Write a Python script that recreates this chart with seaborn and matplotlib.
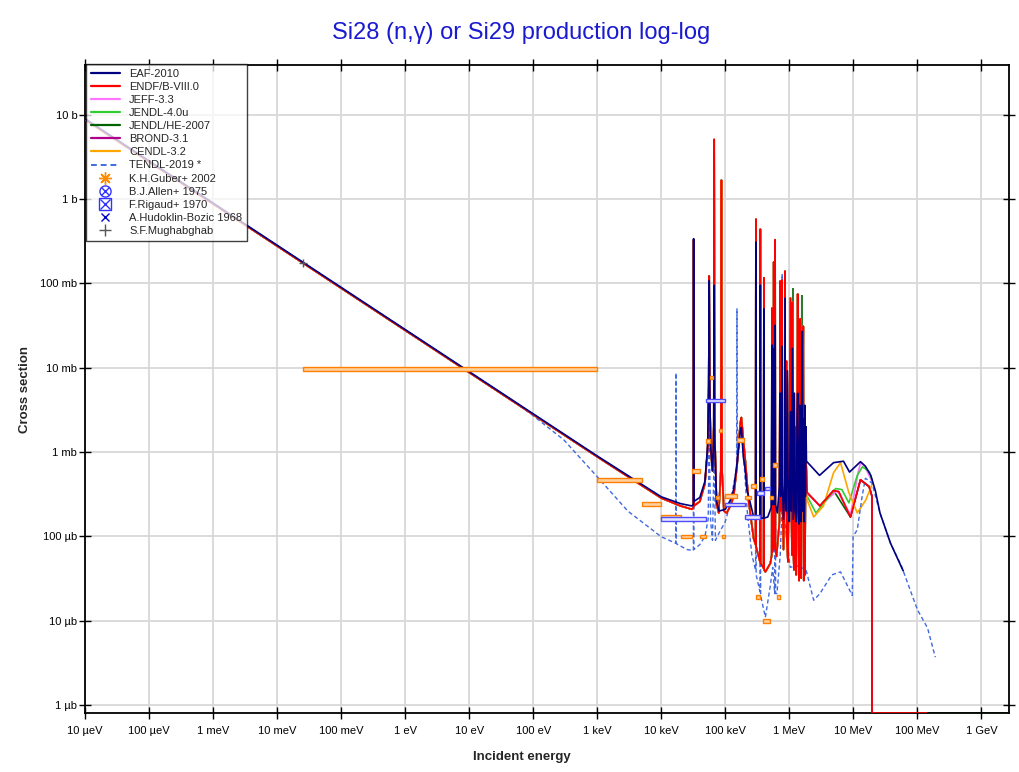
import seaborn as sns
import matplotlib.pyplot as plt
import numpy as np
from matplotlib.lines import Line2D
from matplotlib.patches import Rectangle

# evaluated data: (incident energy [eV], cross section [b]); 0 means no cross section
eaf_2010 = [
    (1e-5, 9.0), (1e3, 9.0e-4), (1e4, 2.95e-4), (2e4, 2.45e-4), (3.0e4, 2.3e-4),
    (3.17e4, 2.4e-4), (3.2e4, 0.34), (3.23e4, 2.6e-4), (4.0e4, 2.9e-4), (4.8e4, 4.5e-4),
    (5.3e4, 1.2e-3), (5.5e4, 6e-3), (5.6e4, 0.108), (5.7e4, 6e-3), (5.9e4, 1.2e-3), (6.3e4, 6e-4),
    (6.6e4, 1.5e-3), (6.7e4, 0.095), (6.8e4, 1.5e-3), (7.3e4, 2.6e-4), (8.0e4, 2.0e-4),
    (1.0e5, 2.1e-4), (1.2e5, 2.7e-4), (1.35e5, 3.6e-4), (1.52e5, 7.3e-4), (1.71e5, 1.75e-3),
    (1.78e5, 1.96e-3), (1.91e5, 8.8e-4), (2.05e5, 6.1e-4), (2.17e5, 3.6e-4), (2.45e5, 2.5e-4),
    (2.77e5, 1.7e-4), (2.97e5, 1.7e-4), (3.0e5, 0.31), (3.03e5, 1.7e-4), (3.48e5, 1.65e-4),
    (3.52e5, 0.095), (3.56e5, 1.65e-4), (3.96e5, 1.65e-4), (4.0e5, 0.05), (4.04e5, 1.65e-4),
    (4.6e5, 1.7e-4), (5.2e5, 2.2e-4), (5.35e5, 0.0186), (5.45e5, 2.4e-4), (5.65e5, 2.4e-4),
    (5.7e5, 0.017), (5.75e5, 2.4e-4), (5.95e5, 2.5e-4), (6.0e5, 0.032), (6.05e5, 2.4e-4),
    (6.5e5, 1.9e-4), (7.0e5, 4e-4), (7.2e5, 5e-3), (7.35e5, 3e-4), (7.6e5, 5e-4), (7.7e5, 0.018),
    (7.8e5, 4e-4), (8.1e5, 1.6e-4), (8.5e5, 5e-4), (8.55e5, 0.067), (8.62e5, 4e-4), (8.9e5, 2e-4),
    (9.3e5, 9.2e-3), (9.6e5, 2e-4), (1.0e6, 1.5e-4), (1.04e6, 3e-3), (1.07e6, 2e-4),
    (1.12e6, 0.017), (1.15e6, 1.6e-4), (1.2e6, 5e-3), (1.23e6, 2e-4), (1.28e6, 1.5e-4),
    (1.32e6, 2.5e-3), (1.35e6, 5e-3), (1.38e6, 2e-4), (1.42e6, 1.4e-4), (1.46e6, 3.6e-3),
    (1.49e6, 1.6e-4), (1.53e6, 1.5e-4), (1.58e6, 0.027), (1.62e6, 2e-4), (1.66e6, 2.5e-3),
    (1.7e6, 1.5e-4), (1.74e6, 3.6e-3), (1.78e6, 3e-4), (1.82e6, 2e-3), (1.85e6, 7.8e-4),
    (2.96e6, 5.3e-4), (4.9e6, 7.5e-4), (7.0e6, 7.8e-4), (8.7e6, 5.8e-4), (1.29e7, 7.7e-4),
    (1.54e7, 6.8e-4), (1.87e7, 5.3e-4), (2.2e7, 3.5e-4), (2.6e7, 1.9e-4), (3.8e7, 8.3e-5),
    (6.0e7, 3.9e-5),
]

endf_res = [
    (1e-5, 8.8), (1e3, 8.8e-4), (1e4, 2.85e-4), (2e4, 2.3e-4), (3.0e4, 2.1e-4),
    (3.17e4, 2.2e-4), (3.2e4, 0.33), (3.23e4, 2.3e-4), (4.0e4, 2.6e-4), (4.8e4, 4.2e-4),
    (5.3e4, 1.1e-3), (5.5e4, 6e-3), (5.6e4, 0.123), (5.7e4, 6e-3), (5.9e4, 1.1e-3), (6.3e4, 6e-4),
    (6.6e4, 2e-3), (6.7e4, 5.1), (6.8e4, 2e-3), (7.3e4, 2.4e-4), (7.9e4, 1.9e-4), (8.5e4, 6e-4),
    (8.7e4, 1.68), (8.9e4, 6e-4), (9.5e4, 2e-4), (1.05e5, 1.9e-4), (1.2e5, 2.3e-4), (1.35e5, 3.0e-4),
    (1.52e5, 6.7e-4), (1.71e5, 2.2e-3), (1.78e5, 2.57e-3), (1.9e5, 1.5e-3), (2.05e5, 8e-4),
    (2.3e5, 2.7e-4), (2.77e5, 9.4e-5), (2.97e5, 8e-5), (3.0e5, 0.58), (3.03e5, 7.5e-5),
    (3.48e5, 5e-5), (3.52e5, 0.44), (3.56e5, 4.8e-5), (3.96e5, 4.2e-5), (4.0e5, 0.117),
    (4.04e5, 4e-5), (4.22e5, 3.8e-5), (5.05e5, 4.8e-5), (5.3e5, 6e-5), (5.35e5, 0.051),
    (5.4e5, 6.5e-5), (5.65e5, 7e-5), (5.7e5, 0.18), (5.75e5, 7.5e-5), (5.95e5, 7.7e-5),
    (6.0e5, 0.33), (6.05e5, 7e-5), (6.3e5, 5.8e-5), (7.0e5, 1.5e-4), (7.2e5, 0.107),
    (7.3e5, 2e-4), (7.6e5, 4e-4), (7.7e5, 0.11), (7.8e5, 3e-4), (8.1e5, 7e-5), (8.5e5, 4e-4),
    (8.55e5, 0.14), (8.62e5, 3e-4), (8.9e5, 6e-4), (9.0e5, 0.012), (9.1e5, 1e-4), (9.5e5, 5e-5),
    (9.9e5, 8e-4), (1.04e6, 0.067), (1.07e6, 3e-4), (1.1e6, 6e-5), (1.12e6, 0.06), (1.14e6, 1e-4),
    (1.18e6, 4e-5), (1.21e6, 2e-3), (1.23e6, 8e-5), (1.28e6, 3.5e-5), (1.31e6, 4e-4),
    (1.35e6, 0.075), (1.38e6, 2e-4), (1.42e6, 3e-5), (1.46e6, 3e-3), (1.48e6, 0.038),
    (1.5e6, 1e-4), (1.53e6, 3.2e-5), (1.56e6, 1.5e-3), (1.58e6, 4e-4), (1.62e6, 2e-3),
    (1.65e6, 0.031), (1.68e6, 3e-5), (1.72e6, 5e-4), (1.75e6, 3.5e-5), (1.8e6, 1e-3),
]
endf_fast = [(1.9e6, 3.3e-4), (3.0e6, 2.3e-4), (4.9e6, 3.5e-4), (5.9e6, 3.4e-4), (9.0e6, 1.7e-4),
             (1.29e7, 4.7e-4), (1.76e7, 3.9e-4), (1.95e7, 3.0e-4), (1.95e7, 0.0), (1.4e8, 0.0)]
jeff_fast = [(1.9e6, 3.3e-4), (3.0e6, 2.3e-4), (5.6e6, 3.5e-4), (9.0e6, 1.8e-4), (1.2e7, 6.0e-4),
             (1.3e7, 7.5e-4), (1.5e7, 6.8e-4), (1.95e7, 4.5e-4)]
jendl4_fast = [(1.9e6, 3.0e-4), (2.6e6, 1.9e-4), (5.3e6, 3.7e-4), (6.6e6, 3.6e-4), (8.5e6, 2.5e-4),
               (1.15e7, 5.3e-4), (1.38e7, 6.7e-4), (1.76e7, 5.9e-4), (1.95e7, 4.7e-4)]
jendl_he_fast = [(1.9e6, 3.3e-4), (3.0e6, 2.3e-4), (4.9e6, 3.5e-4), (9.0e6, 1.7e-4), (1.29e7, 4.7e-4),
                 (1.76e7, 3.9e-4), (1.95e7, 3.0e-4), (1.95e7, 0.0), (3.0e9, 0.0)]
jendl_he_peaks = [(1.12e6, 0.089), (1.58e6, 0.073)]
cendl_fast = [(1.9e6, 2.7e-4), (2.4e6, 1.7e-4), (3.4e6, 2.3e-4), (4.9e6, 5.7e-4), (6.3e6, 7.5e-4),
              (8.5e6, 3.3e-4), (1.15e7, 1.9e-4), (1.56e7, 2.7e-4), (1.95e7, 4.1e-4)]

tendl_2019 = [
    (1e-5, 8.95), (50, 4.0e-3), (100, 2.7e-3), (300, 1.4e-3), (1e3, 5.1e-4), (3e3, 2.0e-4),
    (1e4, 9.9e-5), (1.68e4, 8.3e-5), (1.7e4, 8.7e-3), (1.72e4, 8.2e-5), (2.5e4, 7.0e-5),
    (3.17e4, 6.8e-5), (3.2e4, 0.3), (3.23e4, 7e-5), (4.0e4, 8e-5), (4.8e4, 1.0e-4), (5.4e4, 1.6e-4),
    (5.55e4, 1e-3), (5.6e4, 0.1), (5.65e4, 1e-3), (5.9e4, 1.5e-4), (6.3e4, 9e-5), (6.65e4, 8e-4),
    (6.7e4, 0.09), (6.75e4, 8e-4), (7.0e4, 9e-5), (8.0e4, 1.1e-4), (1.0e5, 1.5e-4), (1.2e5, 2.5e-4),
    (1.5e5, 6.5e-4), (1.52e5, 0.05), (1.54e5, 7e-4), (1.65e5, 1.2e-3), (1.78e5, 1.8e-3),
    (1.95e5, 8e-4), (2.2e5, 2e-4), (2.6e5, 6e-5), (2.97e5, 4e-5), (3.0e5, 0.5), (3.03e5, 3.5e-5),
    (3.48e5, 2.2e-5), (3.52e5, 0.1), (3.56e5, 2e-5), (4.22e5, 1.1e-5), (5.0e5, 2.5e-5),
    (5.5e5, 4.3e-5), (5.9e5, 2.1e-5), (6.0e5, 0.1), (6.1e5, 2.1e-5), (6.4e5, 2.1e-5), (7.2e5, 6e-5),
    (7.7e5, 2.3e-4), (7.72e5, 0.13), (7.8e5, 1.5e-4), (8.5e5, 1.5e-4), (1.03e6, 4.3e-5),
    (1.3e6, 4.5e-5), (1.6e6, 4.2e-5), (1.78e6, 4.3e-5), (2.4e6, 1.75e-5), (3.0e6, 2.1e-5),
    (4.6e6, 3.5e-5), (6.3e6, 3.8e-5), (9.6e6, 2.0e-5), (9.9e6, 1.0e-4), (1.15e7, 1.2e-4),
    (1.37e7, 3.0e-4), (1.54e7, 4.9e-4), (1.95e7, 4.3e-4), (2.6e7, 1.9e-4), (3.8e7, 8.3e-5),
    (5.6e7, 4.5e-5), (7.9e7, 2.2e-5), (1.0e8, 1.35e-5), (1.44e8, 8.2e-6), (1.9e8, 3.7e-6),
]

# experimental data: energy bin edges [eV] and cross section [b]
guber_lo = [0.0253, 1e3, 5e3, 1e4, 2e4, 3e4, 4e4, 5e4, 5.8e4, 7.2e4, 8e4, 9e4, 1e5, 1.5e5,
            2e5, 2.5e5, 3e5, 3.5e5, 3.9e5, 5e5, 5.6e5, 6.4e5]
guber_hi = [1e3, 5e3, 1e4, 2e4, 3e4, 4e4, 5e4, 5.7e4, 6.5e4, 8e4, 9e4, 1e5, 1.5e5, 1.95e5,
            2.5e5, 3e5, 3.5e5, 4e5, 5e5, 5.6e5, 6.4e5, 7.2e5]
guber_xs = [9.7e-3, 4.7e-4, 2.45e-4, 1.7e-4, 1.0e-4, 6.0e-4, 1.0e-4, 1.36e-3, 7.7e-3, 2.9e-4,
            1.8e-3, 1.0e-4, 3.0e-4, 1.4e-3, 2.9e-4, 4.0e-4, 1.9e-5, 4.8e-4, 1.0e-5, 2.9e-4,
            7.0e-4, 1.9e-5]
allen_lo = [1.0e4, 5.0e4, 1.0e5, 2.0e5, 3.1e5, 4.2e5]
allen_hi = [5.0e4, 1.0e5, 2.0e5, 3.5e5, 4.0e5, 5.0e5]
allen_xs = [1.6e-4, 4.1e-3, 2.4e-4, 1.7e-4, 3.3e-4, 3.7e-4]
mughabghab_e = [0.0253]
mughabghab_xs = [0.177]
rel_err = 0.05

x_ticks = [1e-5, 1e-4, 1e-3, 1e-2, 1e-1, 1, 10, 100, 1e3, 1e4, 1e5, 1e6, 1e7, 1e8, 1e9]
x_labels = ['10 µeV', '100 µeV', '1 meV', '10 meV', '100 meV', '1 eV', '10 eV', '100 eV',
            '1 keV', '10 keV', '100 keV', '1 MeV', '10 MeV', '100 MeV', '1 GeV']
y_ticks = [1e-6, 1e-5, 1e-4, 1e-3, 1e-2, 1e-1, 1, 10]
y_labels = ['1 µb', '10 µb', '100 µb', '1 mb', '10 mb', '100 mb', '1 b', '10 b']

sns.set_theme(style='white')
plt.rcParams['font.family'] = ['Liberation Sans', 'DejaVu Sans']

ymin, ymax = 8.05e-7, 39.0
fig = plt.figure(figsize=(10.2, 7.72), dpi=100)
ax = fig.add_axes([0.0833, 0.0764, 0.906, 0.8394])
ax.set_xscale('log')
ax.set_yscale('log')

libs = [
    ('JENDL/HE-2007', endf_res + jendl_he_fast, '#006400', 1),
    ('BROND-3.1', endf_res + endf_fast, '#b0008c', 2),
    ('JEFF-3.3', endf_res + jeff_fast, '#ff77ff', 3),
    ('JENDL-4.0u', endf_res + jendl4_fast, '#33cc33', 4),
    ('CENDL-3.2', endf_res + cendl_fast, '#ffa500', 5),
    ('TENDL-2019 *', tendl_2019, '#4169e1', 6),
    ('ENDF/B-VIII.0', endf_res + endf_fast, '#ff0000', 7),
    ('EAF-2010', eaf_2010, '#000080', 8),
]
for name, pts, col, z in libs:
    arr = np.array(pts)
    xs = np.where(arr[:, 1] > 0, arr[:, 1], ymin)
    sns.lineplot(x=arr[:, 0], y=xs, ax=ax, color=col, lw=1.2, estimator=None,
                 sort=False, legend=False, zorder=z)
    if name.startswith('TENDL'):
        ax.lines[-1].set_dashes([3, 2])
        ax.lines[-1].set_linewidth(1.0)

pk = np.array(jendl_he_peaks)
ax.vlines(pk[:, 0], 3e-3, pk[:, 1], color='#006400', lw=1.2, zorder=1)

for lo, hi, v in zip(guber_lo, guber_hi, guber_xs):
    ax.add_patch(Rectangle((lo, v * (1 - rel_err)), hi - lo, v * 2 * rel_err,
                           facecolor='#ffcf9e', edgecolor='#ff8000', lw=1, zorder=9))
for lo, hi, v in zip(allen_lo, allen_hi, allen_xs):
    ax.add_patch(Rectangle((lo, v * (1 - rel_err)), hi - lo, v * 2 * rel_err,
                           facecolor='#e6e6ff', edgecolor='#4d4dff', lw=1, zorder=9))
sns.scatterplot(x=mughabghab_e, y=mughabghab_xs, ax=ax, marker='+', color='#555555',
                s=40, linewidth=1, zorder=10, legend=False)

ax.set_xlim(1e-5, 2.7e9)
ax.set_ylim(ymin, ymax)
ax.set_xticks(x_ticks)
ax.set_xticklabels(x_labels)
ax.set_yticks(y_ticks)
ax.set_yticklabels(y_labels)
ax.minorticks_off()
ax.grid(True, which='major', color='#d8d8d8', lw=1.3)
ax.set_axisbelow(True)
ax.tick_params(axis='both', which='major', direction='inout', length=8, width=1,
               labelsize=8, colors='black', top=True, right=True, bottom=True, left=True)
ax.tick_params(axis='x', pad=5)
ax.tick_params(axis='y', pad=1.5)
for s in ax.spines.values():
    s.set_color('black')
    s.set_linewidth(1.3)

handles = [
    Line2D([], [], color='#000080', lw=1.6),
    Line2D([], [], color='#ff0000', lw=1.6),
    Line2D([], [], color='#ff77ff', lw=1.6),
    Line2D([], [], color='#33cc33', lw=1.6),
    Line2D([], [], color='#006400', lw=1.6),
    Line2D([], [], color='#b0008c', lw=1.6),
    Line2D([], [], color='#ffa500', lw=1.6),
    Line2D([], [], color='#4169e1', lw=1.4, ls=(0, (3, 2))),
    Line2D([], [], color='#ff8c00', marker=(8, 2, 0), ls='', ms=9, mew=1),
    (Line2D([], [], color='#3333ff', marker='o', mfc='none', ls='', ms=8, mew=1),
     Line2D([], [], color='#3333ff', marker='x', ls='', ms=5.5, mew=1)),
    (Line2D([], [], color='#3333ff', marker='s', mfc='none', ls='', ms=8, mew=1),
     Line2D([], [], color='#3333ff', marker='x', ls='', ms=7, mew=1)),
    Line2D([], [], color='#0000cc', marker='x', ls='', ms=6, mew=1),
    Line2D([], [], color='#555555', marker='+', ls='', ms=9, mew=1),
]
labels = ['EAF-2010', 'ENDF/B-VIII.0', 'JEFF-3.3', 'JENDL-4.0u', 'JENDL/HE-2007', 'BROND-3.1',
          'CENDL-3.2', 'TENDL-2019 *', 'K.H.Guber+ 2002', 'B.J.Allen+ 1975', 'F.Rigaud+ 1970',
          'A.Hudoklin-Bozic 1968', 'S.F.Mughabghab']
leg = ax.legend(handles, labels, loc='upper left', bbox_to_anchor=(0.001, 1.002), borderaxespad=0,
                fontsize=8, handlelength=2.6, handletextpad=0.85, labelspacing=0.28,
                borderpad=0.45, fancybox=False, framealpha=0.75, edgecolor='black')
leg.get_frame().set_linewidth(1.0)
leg.set_zorder(20)

fig.text(0.511, 0.957, 'Si28 (n,γ) or Si29 production log-log', color='#1a1ad0',
         fontsize=17, ha='center', va='center')
fig.text(0.512, 0.019, 'Incident energy', fontsize=9.5, fontweight='bold',
         ha='center', va='center')
fig.text(0.025, 0.495, 'Cross section', fontsize=9.5, fontweight='bold', rotation=90,
         ha='center', va='center')

fig.savefig('out.png', dpi=100)
